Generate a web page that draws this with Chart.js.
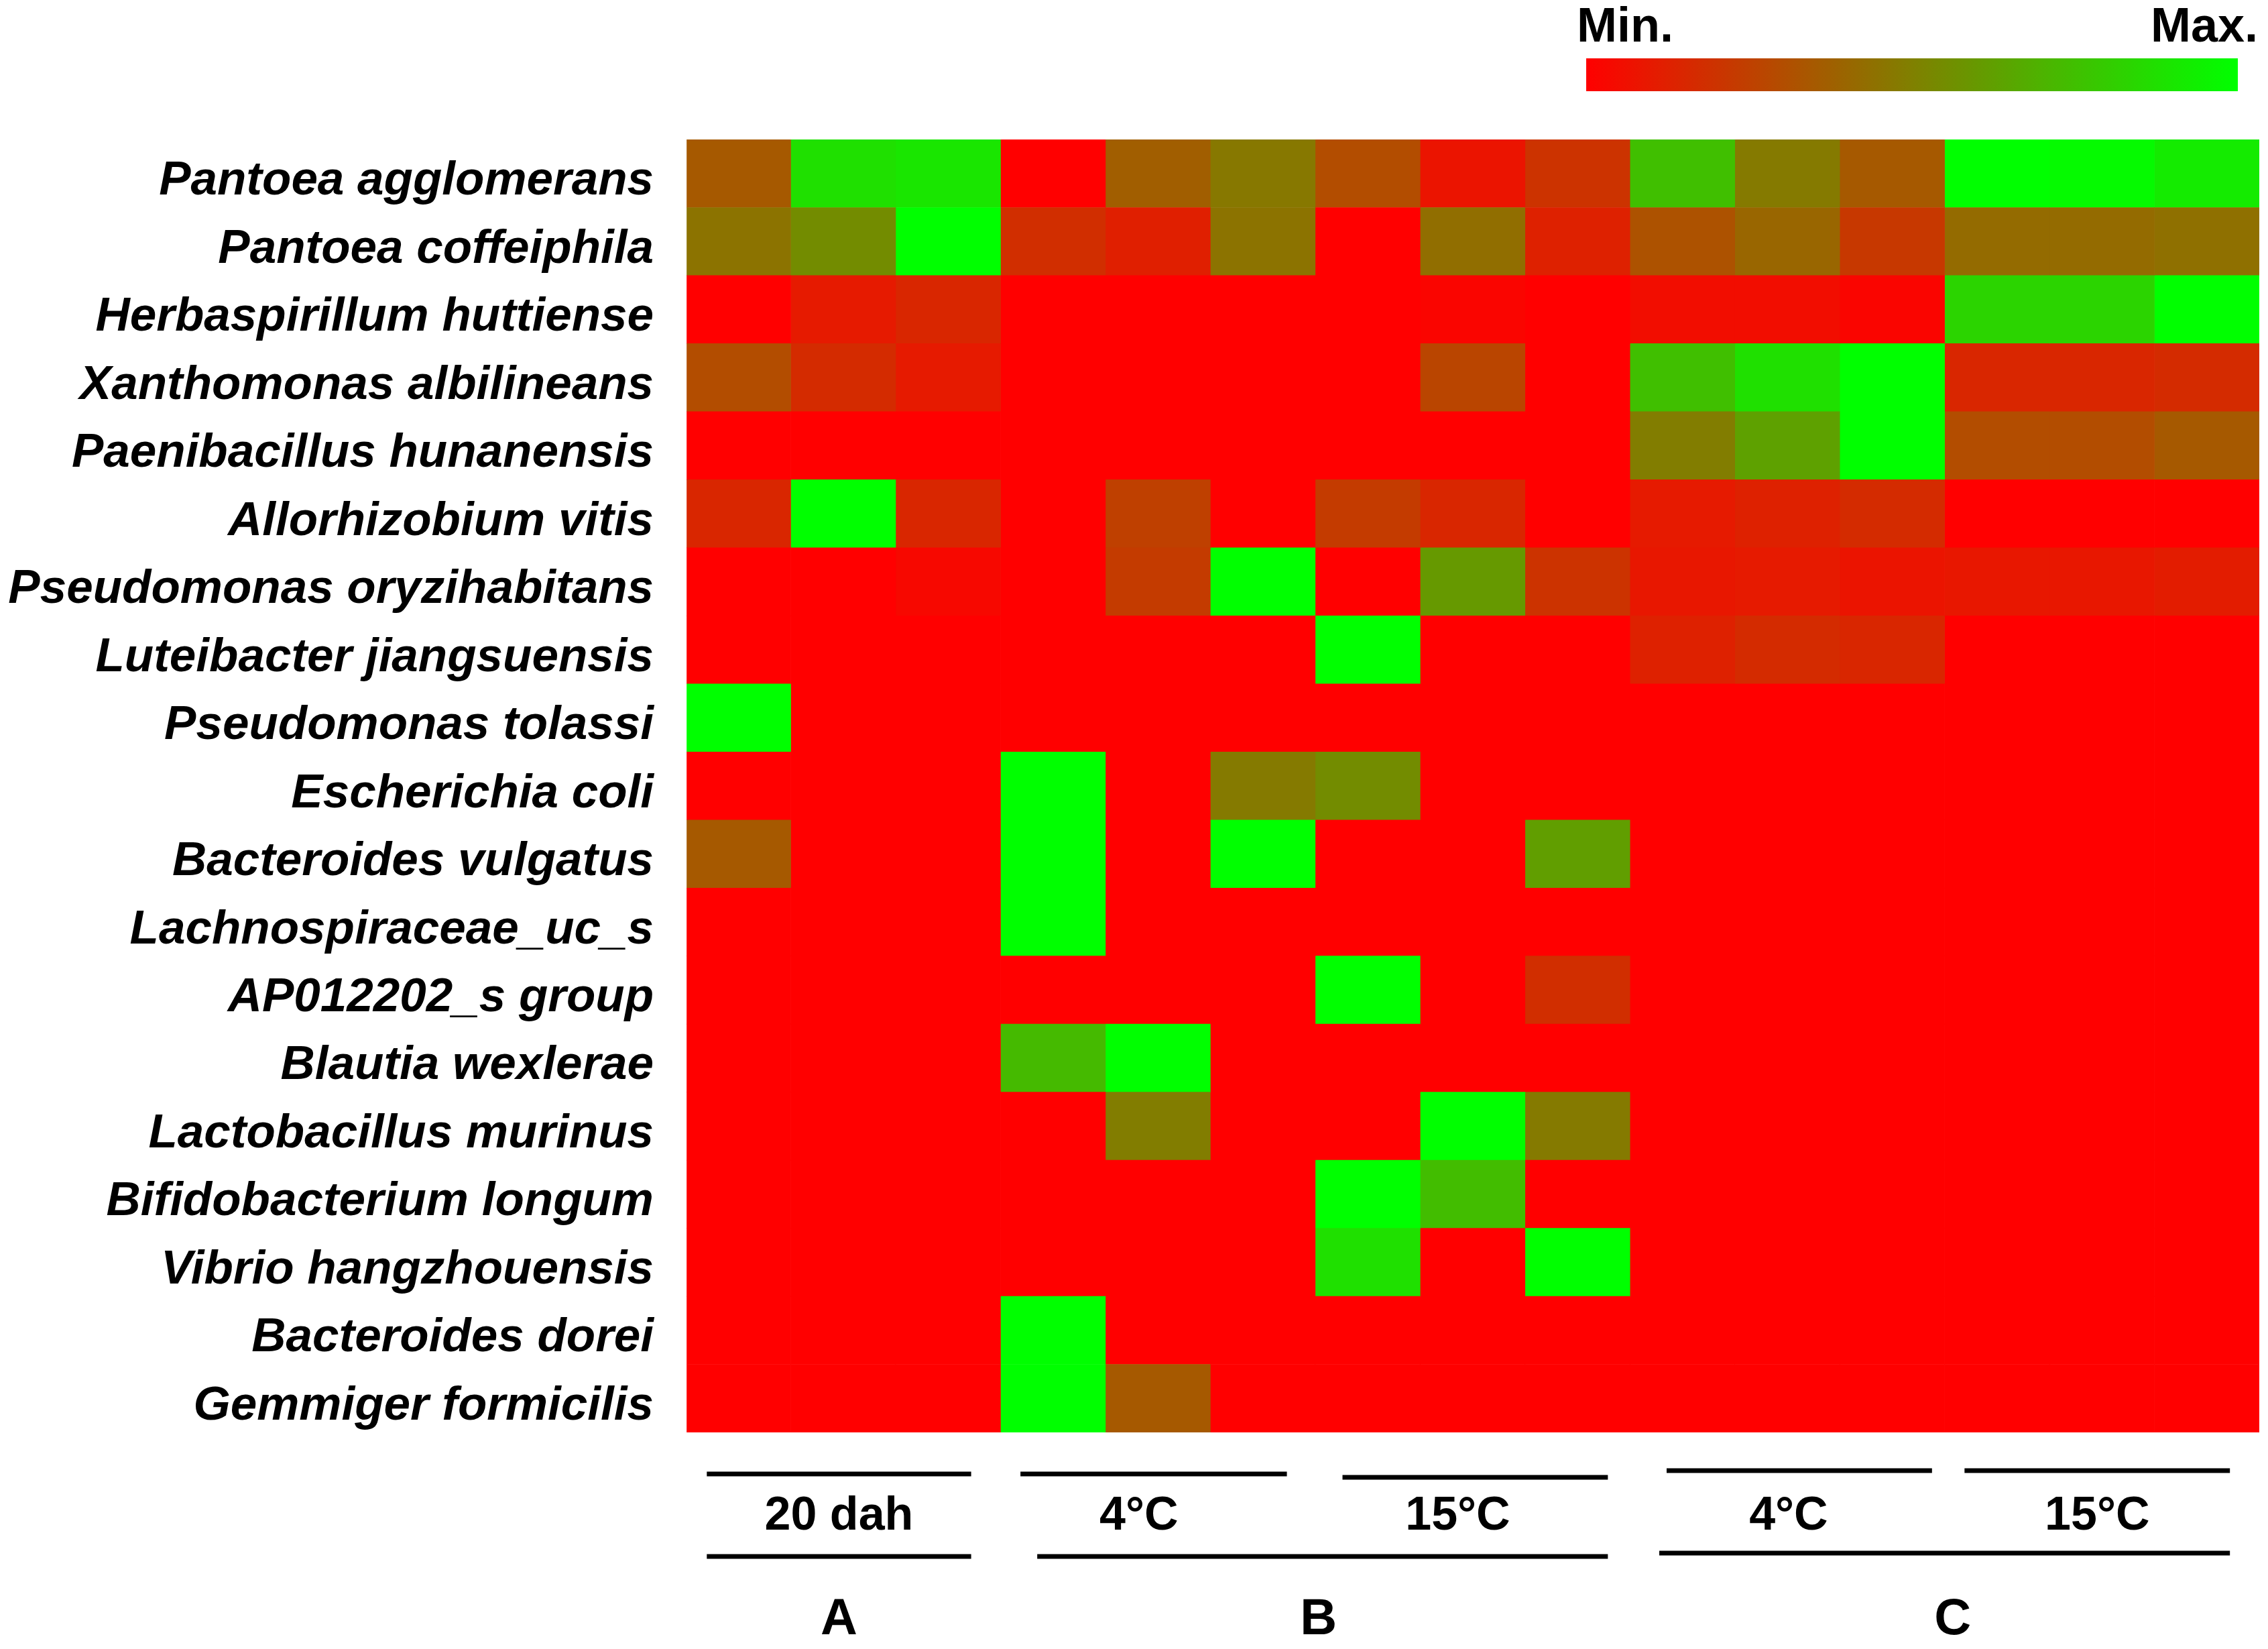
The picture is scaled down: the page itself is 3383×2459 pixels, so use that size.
<!DOCTYPE html>
<html>
<head>
<meta charset="utf-8">
<script src="https://cdn.jsdelivr.net/npm/chart.js@4"></script>
<style>
  html, body { margin: 0; padding: 0; background: #fff; }
  #wrap { width: 3383px; height: 2459px; }
</style>
</head>
<body>
<div id="wrap"><canvas id="heatmap" width="3383" height="2459"></canvas></div>
<script>
// DATA
const species = [
    "Pantoea agglomerans", "Pantoea coffeiphila", "Herbaspirillum huttiense",
    "Xanthomonas albilineans", "Paenibacillus hunanensis", "Allorhizobium vitis",
    "Pseudomonas oryzihabitans", "Luteibacter jiangsuensis", "Pseudomonas tolassi",
    "Escherichia coli", "Bacteroides vulgatus", "Lachnospiraceae_uc_s",
    "AP012202_s group", "Blautia wexlerae", "Lactobacillus murinus",
    "Bifidobacterium longum", "Vibrio hangzhouensis", "Bacteroides dorei",
    "Gemmiger formicilis"
];

// relative abundance, 0 = Min. (red), 1 = Max. (green); one row per species, 15 samples
const abundance = [
    [0.35, 0.88, 0.90, 0, 0.37, 0.47, 0.30, 0.08, 0.20, 0.75, 0.48, 0.35, 1, 0.98, 0.92],
    [0.45, 0.55, 1, 0.18, 0.12, 0.45, 0, 0.43, 0.13, 0.32, 0.40, 0.22, 0.42, 0.42, 0.44],
    [0, 0.10, 0.15, 0, 0, 0, 0, 0.02, 0, 0.05, 0.05, 0.02, 0.83, 0.83, 1],
    [0.30, 0.17, 0.10, 0, 0, 0, 0, 0.27, 0, 0.75, 0.88, 1, 0.15, 0.15, 0.17],
    [0, 0, 0, 0, 0, 0, 0, 0, 0, 0.49, 0.63, 1, 0.30, 0.30, 0.35],
    [0.15, 1, 0.15, 0, 0.25, 0, 0.23, 0.15, 0, 0.10, 0.13, 0.17, 0, 0, 0],
    [0, 0, 0.03, 0, 0.23, 1, 0, 0.60, 0.20, 0.09, 0.10, 0.08, 0.09, 0.09, 0.11],
    [0, 0, 0, 0, 0, 0, 1, 0, 0, 0.13, 0.17, 0.15, 0, 0, 0],
    [1, 0, 0, 0, 0, 0, 0, 0, 0, 0, 0, 0, 0, 0, 0],
    [0, 0, 0, 1, 0, 0.48, 0.55, 0, 0, 0, 0, 0, 0, 0, 0],
    [0.35, 0, 0, 1, 0, 1, 0, 0, 0.62, 0, 0, 0, 0, 0, 0],
    [0, 0, 0, 1, 0, 0, 0, 0, 0, 0, 0, 0, 0, 0, 0],
    [0, 0, 0, 0, 0, 0, 1, 0, 0.18, 0, 0, 0, 0, 0, 0],
    [0, 0, 0, 0.73, 1, 0, 0, 0, 0, 0, 0, 0, 0, 0, 0],
    [0, 0, 0, 0, 0.49, 0, 0, 1, 0.48, 0, 0, 0, 0, 0, 0],
    [0, 0, 0, 0, 0, 0, 1, 0.74, 0, 0, 0, 0, 0, 0, 0],
    [0, 0, 0, 0, 0, 0, 0.88, 0, 1, 0, 0, 0, 0, 0, 0],
    [0, 0, 0, 1, 0, 0, 0, 0, 0, 0, 0, 0, 0, 0, 0],
    [0, 0, 0, 1, 0.35, 0, 0, 0, 0, 0, 0, 0, 0, 0, 0]
];

// sample groups (first and last column index)
const groupLabels = ["20 dah", "4°C", "15°C", "4°C", "15°C"];
const groupFirst = [0, 3, 6, 9, 12];
const groupLast = [2, 5, 8, 11, 14];

const panelLabels = ["A", "B", "C"];
const panelFirst = [0, 3, 9];
const panelLast = [2, 8, 14];

const sampleCount = abundance[0].length;

// COLOUR SCALE red -> green
function colorFor(v) {
    const r = Math.round(255 * (1 - v));
    const g = Math.round(255 * v);
    return `rgb(${r},${g},0)`;
}

// one floating-bar dataset per sample column
const datasets = [];
for (let c = 0; c < sampleCount; c++) {
    datasets.push({
        data: species.map(() => [c, c + 1]),
        backgroundColor: abundance.map(row => colorFor(row[c])),
        borderWidth: 0,
        grouped: false,
        barPercentage: 1,
        categoryPercentage: 1
    });
}

// EXTRA DRAWING: colour bar and group brackets
const FONT = '"Liberation Sans", Arial, sans-serif';

// hand-drawn brackets in the original are not quite even
const groupInset = [[0.20, 0.28], [0.19, 0.27], [0.26, 0.21], [0.35, 0.12], [0.19, 0.28]];
const groupLineY = [62, 62, 67, 57, 57];
const groupTextShift = [0, -22, -26, -16, 0];
const panelInset = [[0.20, 0.28], [0.35, 0.21], [0.28, 0.28]];
const panelLineY = [185, 185, 180];
const panelTextShift = [0, -6, 12];

const decorations = {
    id: "decorations",
    afterDraw(chart) {
        const ctx = chart.ctx;
        const x = chart.scales.x;
        const area = chart.chartArea;
        ctx.save();

        // colour key
        const kx0 = 2366, kx1 = 3338;
        const grad = ctx.createLinearGradient(kx0, 0, kx1, 0);
        for (let i = 0; i <= 10; i++) grad.addColorStop(i / 10, colorFor(i / 10));
        ctx.fillStyle = grad;
        ctx.fillRect(kx0, 87, kx1 - kx0, 49);

        ctx.fillStyle = "#000";
        ctx.font = `bold 72px ${FONT}`;
        ctx.textBaseline = "alphabetic";
        ctx.textAlign = "left";
        ctx.fillText("Min.", 2352, 62);
        ctx.textAlign = "right";
        ctx.fillText("Max.", 3368, 62);

        ctx.strokeStyle = "#000";
        ctx.lineWidth = 7;
        ctx.textAlign = "center";
        ctx.textBaseline = "middle";

        const bracket = (a, b, inset, y) => {
            const x0 = x.getPixelForValue(a + inset[0]);
            const x1 = x.getPixelForValue(b + 1 - inset[1]);
            ctx.beginPath();
            ctx.moveTo(x0, y);
            ctx.lineTo(x1, y);
            ctx.stroke();
            return (x0 + x1) / 2;
        };

        ctx.font = `bold 70px ${FONT}`;
        groupLabels.forEach((label, i) => {
            const mid = bracket(groupFirst[i], groupLast[i], groupInset[i], area.bottom + groupLineY[i]);
            ctx.fillText(label, mid + groupTextShift[i], area.bottom + 126);
        });

        ctx.font = `bold 76px ${FONT}`;
        panelLabels.forEach((label, i) => {
            const mid = bracket(panelFirst[i], panelLast[i], panelInset[i], area.bottom + panelLineY[i]);
            ctx.fillText(label, mid + panelTextShift[i], area.bottom + 280);
        });

        ctx.restore();
    }
};

// CHART
new Chart(document.getElementById("heatmap"), {
    type: "bar",
    data: { labels: species, datasets: datasets },
    options: {
        indexAxis: "y",
        responsive: false,
        animation: false,
        devicePixelRatio: 1,
        layout: { padding: { top: 208, right: 13, bottom: 323, left: 0 } },
        plugins: {
            legend: { display: false },
            tooltip: { enabled: false }
        },
        scales: {
            x: {
                type: "linear",
                min: 0,
                max: sampleCount,
                z: 1,
                ticks: { display: false, stepSize: 1 },
                border: { display: false },
                grid: {
                    drawTicks: false,
                    lineWidth: 3,
                    color: ctx => (ctx.tick && (ctx.tick.value === 0 || ctx.tick.value === sampleCount))
                        ? "rgba(0,0,0,0)" : "rgba(235,235,235,0.4)"
                },
                afterFit: s => { s.height = 0; }
            },
            y: {
                type: "category",
                offset: true,
                border: { display: false },
                grid: { display: false, drawTicks: false },
                ticks: {
                    color: "#000",
                    padding: 48,
                    labelOffset: 12,
                    autoSkip: false,
                    font: { family: FONT, size: 71, style: "italic", weight: "bold" }
                },
                afterFit: s => { s.width = 1023; }
            }
        }
    },
    plugins: [decorations]
});
</script>
</body>
</html>
